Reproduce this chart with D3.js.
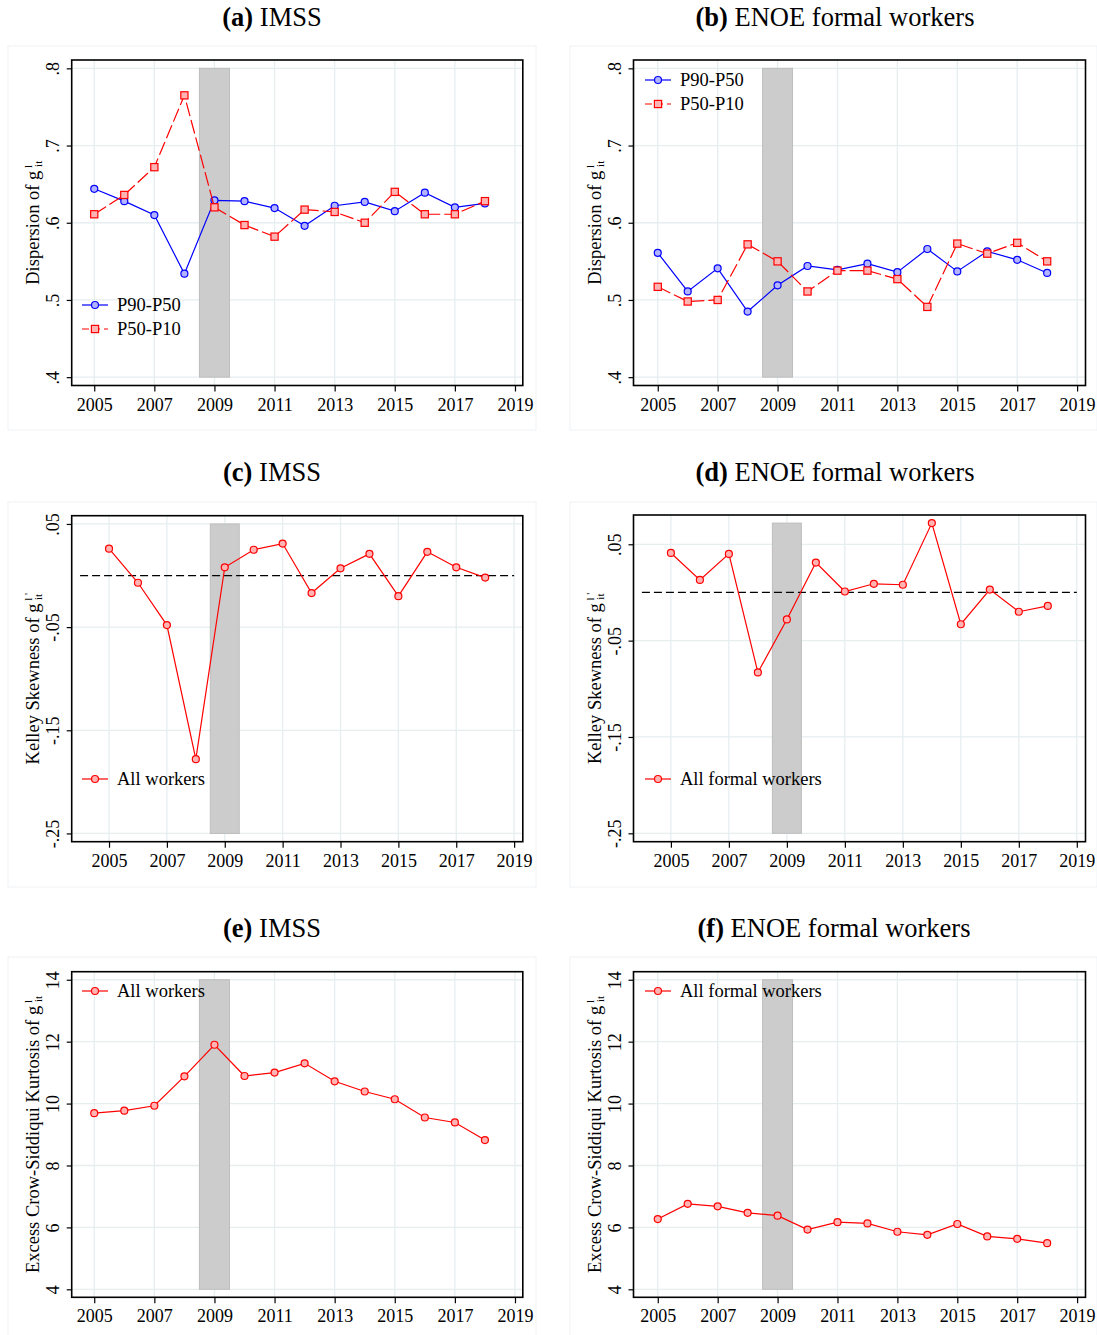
<!DOCTYPE html>
<html>
<head>
<meta charset="utf-8">
<script src="https://cdn.jsdelivr.net/npm/d3@7"></script>
<style>
body { margin: 0; background: #fff; }
text { font-family: "Liberation Serif", "Times New Roman", serif; fill: #000; }
</style>
</head>
<body>
<svg width="1097" height="1335"></svg>
<script>
// data
const years = [2005, 2006, 2007, 2008, 2009, 2010, 2011, 2012, 2013, 2014, 2015, 2016, 2017, 2018];

const imssP90P50 = [0.644, 0.628, 0.610, 0.534, 0.629, 0.628, 0.619, 0.596, 0.622, 0.627, 0.615, 0.639, 0.620, 0.625];
const imssP50P10 = [0.611, 0.636, 0.672, 0.765, 0.620, 0.597, 0.582, 0.617, 0.614, 0.600, 0.640, 0.611, 0.611, 0.628];
const enoeP90P50 = [0.561, 0.511, 0.541, 0.485, 0.519, 0.544, 0.539, 0.547, 0.536, 0.566, 0.537, 0.563, 0.552, 0.535];
const enoeP50P10 = [0.517, 0.498, 0.500, 0.572, 0.550, 0.511, 0.538, 0.538, 0.527, 0.491, 0.573, 0.560, 0.574, 0.550];

const imssKelley = [0.026, -0.007, -0.048, -0.178, 0.008, 0.025, 0.031, -0.017, 0.007, 0.021, -0.020, 0.023, 0.008, -0.002];
const enoeKelley = [0.041, 0.013, 0.040, -0.083, -0.028, 0.031, 0.001, 0.009, 0.008, 0.072, -0.033, 0.003, -0.020, -0.014];

const imssKurtosis = [9.69, 9.77, 9.93, 10.88, 11.90, 10.89, 11.00, 11.30, 10.72, 10.39, 10.14, 9.55, 9.39, 8.82];
const enoeKurtosis = [6.27, 6.76, 6.68, 6.47, 6.38, 5.93, 6.17, 6.13, 5.86, 5.76, 6.11, 5.71, 5.63, 5.49];

const xTicks = [2005, 2007, 2009, 2011, 2013, 2015, 2017, 2019];
const dispersionTicks = [0.4, 0.5, 0.6, 0.7, 0.8];
const skewTicks = [-0.25, -0.15, -0.05, 0.05];
const kurtTicks = [4, 6, 8, 10, 12, 14];
const recession = [2008.5, 2009.5];

const svg = d3.select("svg");
svg.append("rect").attr("width", 1097).attr("height", 1335).attr("fill", "#fff");

const RED = "#ff0000", BLUE = "#0000ff";
// Stata style: ".05", "-.25"
const stataFmt = d => String(d).replace("0.", ".");

function p9050(v) { return { name: "P90-P50", values: v, color: BLUE, fill: "#b3b3ff", symbol: "circle", dash: null }; }
function p5010(v) { return { name: "P50-P10", values: v, color: RED, fill: "#ffb3b3", symbol: "square", dash: "14,4" }; }
function single(name, v) { return { name: name, values: v, color: RED, fill: "#ffb3b3", symbol: "circle", dash: null }; }

const LEFT = { l: 71.7, r: 522.8 }, RIGHT = { l: 633.5, r: 1085.5 };

const panels = [
  { tag: "(a)", title: " IMSS", tx: 272, ty: 26, box: [8, 46, 536, 430],
    f: { ...LEFT, t: 60, b: 385.5 }, xDom: [2004.25, 2019.26], yDom: [0.3892, 0.8108],
    yTicks: dispersionTicks, ylab: "Dispersion of g", prime: "",
    series: [p9050(imssP90P50), p5010(imssP50P10)], legend: [82, 305], zero: false },
  { tag: "(b)", title: " ENOE formal workers", tx: 835, ty: 26, box: [570, 46, 1097, 430],
    f: { ...RIGHT, t: 60, b: 385.5 }, xDom: [2004.19, 2019.28], yDom: [0.3892, 0.8108],
    yTicks: dispersionTicks, ylab: "Dispersion of g", prime: "",
    series: [p9050(enoeP90P50), p5010(enoeP50P10)], legend: [645, 80], zero: false },
  { tag: "(c)", title: " IMSS", tx: 272, ty: 481, box: [8, 502, 536, 887],
    f: { ...LEFT, t: 515.7, b: 841.7 }, xDom: [2003.71, 2019.3], yDom: [-0.258, 0.058],
    yTicks: skewTicks, ylab: "Kelley Skewness of g", prime: "'",
    series: [single("All workers", imssKelley)], legend: [82, 779], zero: true },
  { tag: "(d)", title: " ENOE formal workers", tx: 835, ty: 481, box: [570, 502, 1097, 887],
    f: { ...RIGHT, t: 515, b: 841.7 }, xDom: [2003.71, 2019.3], yDom: [-0.2587, 0.0804],
    yTicks: skewTicks, ylab: "Kelley Skewness of g", prime: "'",
    series: [single("All formal workers", enoeKelley)], legend: [645, 779], zero: true },
  { tag: "(e)", title: " IMSS", tx: 272, ty: 937, box: [8, 957, 536, 1340],
    f: { ...LEFT, t: 971.7, b: 1297.3 }, xDom: [2004.25, 2019.26], yDom: [3.742, 14.26],
    yTicks: kurtTicks, ylab: "Excess Crow-Siddiqui Kurtosis of g", prime: "",
    series: [single("All workers", imssKurtosis)], legend: [82, 991], zero: false },
  { tag: "(f)", title: " ENOE formal workers", tx: 834, ty: 937, box: [570, 957, 1097, 1340],
    f: { ...RIGHT, t: 971.7, b: 1297.3 }, xDom: [2004.19, 2019.28], yDom: [3.742, 14.26],
    yTicks: kurtTicks, ylab: "Excess Crow-Siddiqui Kurtosis of g", prime: "",
    series: [single("All formal workers", enoeKurtosis)], legend: [645, 991], zero: false }
];

function drawMarker(sel, s, x, y) {
  if (s.symbol === "square") {
    sel.append("rect").attr("x", x - 3.6).attr("y", y - 3.6).attr("width", 7.2).attr("height", 7.2)
      .attr("fill", s.fill).attr("stroke", s.color).attr("stroke-width", 1.2);
  } else {
    sel.append("circle").attr("cx", x).attr("cy", y).attr("r", 3.5)
      .attr("fill", s.fill).attr("stroke", s.color).attr("stroke-width", 1.2);
  }
}

panels.forEach(p => {
  const g = svg.append("g");
  const f = p.f;
  const x = d3.scaleLinear().domain(p.xDom).range([f.l, f.r]);
  const y = d3.scaleLinear().domain(p.yDom).range([f.b, f.t]);

  // faint outer box of the sub-graph
  g.append("rect").attr("x", p.box[0]).attr("y", p.box[1])
    .attr("width", p.box[2] - p.box[0]).attr("height", p.box[3] - p.box[1])
    .attr("fill", "none").attr("stroke", "#eef2f4").attr("stroke-width", 1);

  // title
  const t = g.append("text").attr("x", p.tx).attr("y", p.ty).attr("text-anchor", "middle")
    .style("font-size", "26.5px");
  t.append("tspan").style("font-weight", "bold").text(p.tag);
  t.append("tspan").text(p.title);

  // grid
  g.selectAll(".vgrid").data(xTicks).enter().append("line")
    .attr("x1", d => x(d)).attr("x2", d => x(d)).attr("y1", f.t).attr("y2", f.b)
    .attr("stroke", "#e6eef0").attr("stroke-width", 1.3);
  g.selectAll(".hgrid").data(p.yTicks).enter().append("line")
    .attr("x1", f.l).attr("x2", f.r).attr("y1", d => y(d)).attr("y2", d => y(d))
    .attr("stroke", "#e6eef0").attr("stroke-width", 1.3);

  // recession band
  const allVals = d3.merge(p.series.map(s => s.values));
  const bandTop = Math.max(d3.max(p.yTicks), d3.max(allVals));
  const bandBot = d3.min(p.yTicks);
  g.append("rect").attr("x", x(recession[0])).attr("width", x(recession[1]) - x(recession[0]))
    .attr("y", y(bandTop)).attr("height", y(bandBot) - y(bandTop))
    .attr("fill", "#cccccc").attr("stroke", "#bdbdbd").attr("stroke-width", 1);

  if (p.zero) {
    g.append("line").attr("x1", x(2004)).attr("x2", x(2019)).attr("y1", y(0)).attr("y2", y(0))
      .attr("stroke", "#000").attr("stroke-width", 1.2).attr("stroke-dasharray", "8,4");
  }

  // series
  p.series.forEach(s => {
    const pts = years.map((yr, i) => [yr, s.values[i]]);
    g.append("path").datum(pts)
      .attr("d", d3.line().x(d => x(d[0])).y(d => y(d[1])))
      .attr("fill", "none").attr("stroke", s.color).attr("stroke-width", 1.2)
      .attr("stroke-dasharray", s.dash);
    pts.forEach(d => drawMarker(g, s, x(d[0]), y(d[1])));
  });

  // frame
  g.append("rect").attr("x", f.l).attr("y", f.t).attr("width", f.r - f.l).attr("height", f.b - f.t)
    .attr("fill", "none").attr("stroke", "#000").attr("stroke-width", 1.6);

  // x axis
  const xa = g.append("g").attr("transform", `translate(0,${f.b})`)
    .call(d3.axisBottom(x).tickValues(xTicks).tickFormat(d3.format("d")).tickSize(6).tickSizeOuter(0));
  xa.select(".domain").remove();
  xa.selectAll("line").attr("stroke", "#000").attr("stroke-width", 1.2);
  xa.selectAll("text").attr("dy", null).attr("y", 25).style("font-size", "18px")
    .style("font-family", '"Liberation Serif", serif');

  // y axis
  const ya = g.append("g").attr("transform", `translate(${f.l},0)`)
    .call(d3.axisLeft(y).tickValues(p.yTicks).tickFormat(stataFmt).tickSize(5).tickSizeOuter(0));
  ya.select(".domain").remove();
  ya.selectAll("line").attr("stroke", "#000").attr("stroke-width", 1.2);
  ya.selectAll("text")
    .attr("x", null).attr("dy", null)
    .attr("transform", "translate(-12.5,0) rotate(-90)")
    .attr("text-anchor", "middle")
    .style("font-size", "18px").style("font-family", '"Liberation Serif", serif');

  // y title
  const yc = (f.t + f.b) / 2;
  const yt = g.append("text").attr("transform", `translate(${f.l - 32.5},${yc}) rotate(-90)`)
    .attr("text-anchor", "middle").style("font-size", "18.5px");
  yt.append("tspan").text(p.ylab);
  yt.append("tspan").attr("dy", -7).style("font-size", "11px").text(" l" + (p.prime ? " " + p.prime : ""));
  yt.append("tspan").attr("dx", p.prime ? -7 : -2).attr("dy", 10).style("font-size", "11px").text("it");

  // legend
  const [lx, ly] = p.legend;
  p.series.forEach((s, i) => {
    const yy = ly + i * 24;
    g.append("line").attr("x1", lx).attr("x2", lx + 26).attr("y1", yy).attr("y2", yy)
      .attr("stroke", s.color).attr("stroke-width", 1.2).attr("stroke-dasharray", s.dash ? "7,4" : null);
    drawMarker(g, s, lx + 13, yy);
    g.append("text").attr("x", lx + 35).attr("y", yy + 6).style("font-size", "18.5px").text(s.name);
  });
});
</script>
</body>
</html>
